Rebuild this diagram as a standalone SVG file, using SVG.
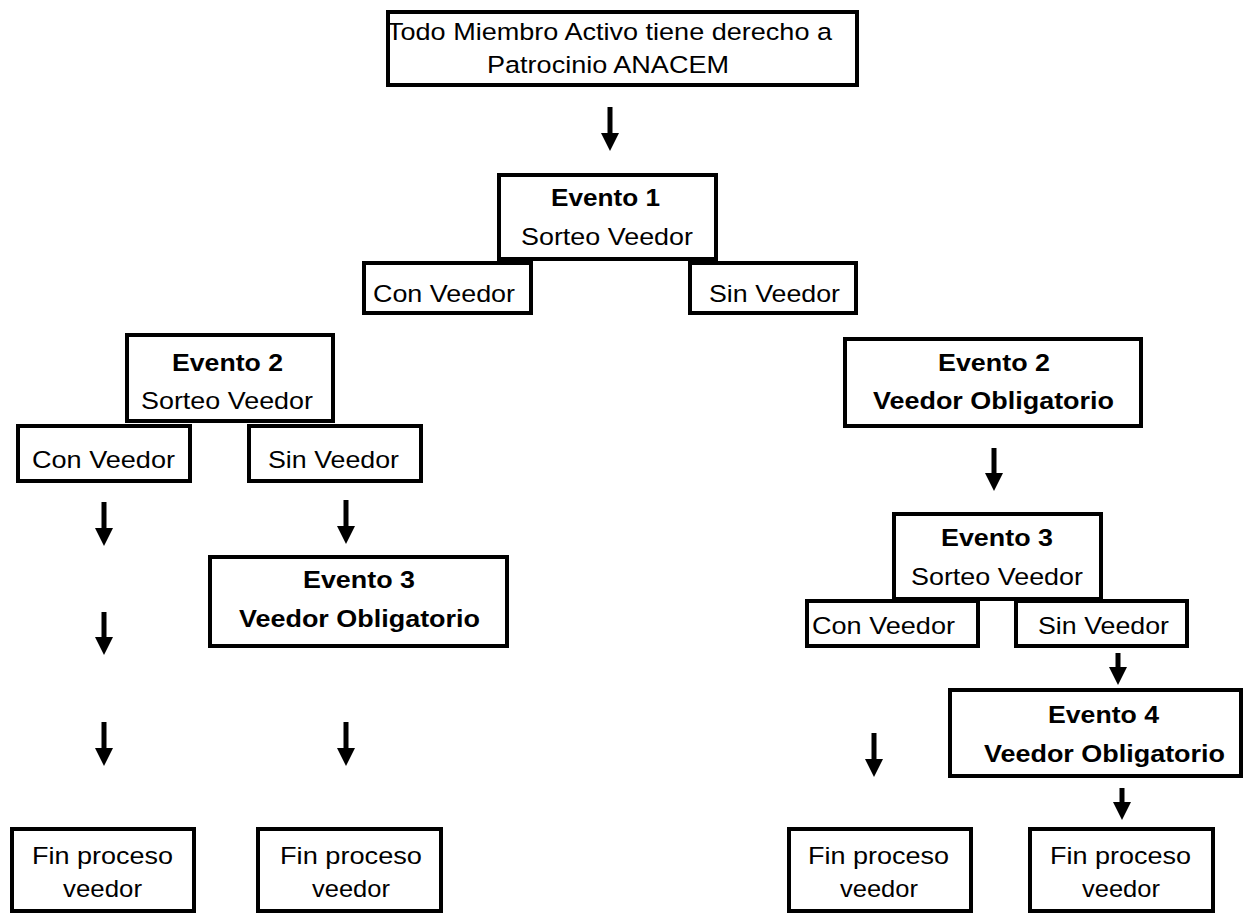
<svg xmlns="http://www.w3.org/2000/svg" width="1244" height="917" viewBox="0 0 1244 917">
<style>
.box{fill:#fff;stroke:#000;stroke-width:4}
.t{font-family:"Liberation Sans",Arial,sans-serif;font-size:24.5px;fill:#000}
.b{font-weight:bold}
.arr{stroke:#000;stroke-width:5;fill:none;marker-end:url(#ah)}
</style>
<defs>
<marker id="ah" markerUnits="userSpaceOnUse" viewBox="0 -9 18 18" refX="0" refY="0" markerWidth="18" markerHeight="18" orient="auto">
<path d="M0,-9 L18,0 L0,9 z" fill="#000"/>
</marker>
</defs>
<rect width="1244" height="917" fill="#fff"/>

<g id="connectors">
<line class="arr" x1="610" y1="107" x2="610" y2="133"/>
<line class="arr" x1="104" y1="502" x2="104" y2="528"/>
<line class="arr" x1="346" y1="500" x2="346" y2="526"/>
<line class="arr" x1="104" y1="612" x2="104" y2="637"/>
<line class="arr" x1="104" y1="722" x2="104" y2="748"/>
<line class="arr" x1="346" y1="722" x2="346" y2="748"/>
<line class="arr" x1="994" y1="448" x2="994" y2="473"/>
<line class="arr" x1="1118" y1="653" x2="1118" y2="667"/>
<line class="arr" x1="874" y1="733" x2="874" y2="759"/>
<line class="arr" x1="1122" y1="788" x2="1122" y2="802"/>
</g>

<g id="n-top">
<rect class="box" x="388" y="12" width="469" height="73"/>
<text class="t" x="387" y="40" textLength="445" lengthAdjust="spacingAndGlyphs">Todo Miembro Activo tiene derecho a</text>
<text class="t" x="487" y="73" textLength="242" lengthAdjust="spacingAndGlyphs">Patrocinio ANACEM</text>
</g>

<g id="n-ev1">
<rect class="box" x="499" y="175" width="217" height="84"/>
<text class="t b" x="551" y="206" textLength="109" lengthAdjust="spacingAndGlyphs">Evento 1</text>
<text class="t" x="521" y="245" textLength="172" lengthAdjust="spacingAndGlyphs">Sorteo Veedor</text>
</g>
<g id="n-ev1-con">
<rect class="box" x="364" y="263" width="167" height="50"/>
<text class="t" x="373" y="302" textLength="142" lengthAdjust="spacingAndGlyphs">Con Veedor</text>
</g>
<g id="n-ev1-sin">
<rect class="box" x="690" y="263" width="166" height="50"/>
<text class="t" x="709" y="302" textLength="131" lengthAdjust="spacingAndGlyphs">Sin Veedor</text>
</g>

<g id="n-ev2-left">
<rect class="box" x="127" y="335" width="206" height="86"/>
<text class="t b" x="172" y="371" textLength="111" lengthAdjust="spacingAndGlyphs">Evento 2</text>
<text class="t" x="141" y="409" textLength="172" lengthAdjust="spacingAndGlyphs">Sorteo Veedor</text>
</g>
<g id="n-ev2-con">
<rect class="box" x="18" y="426" width="172" height="55"/>
<text class="t" x="32" y="468" textLength="143" lengthAdjust="spacingAndGlyphs">Con Veedor</text>
</g>
<g id="n-ev2-sin">
<rect class="box" x="249" y="426" width="172" height="55"/>
<text class="t" x="268" y="468" textLength="131" lengthAdjust="spacingAndGlyphs">Sin Veedor</text>
</g>

<g id="n-ev3-left">
<rect class="box" x="210" y="557" width="297" height="89"/>
<text class="t b" x="303" y="588" textLength="112" lengthAdjust="spacingAndGlyphs">Evento 3</text>
<text class="t b" x="239" y="627" textLength="241" lengthAdjust="spacingAndGlyphs">Veedor Obligatorio</text>
</g>

<g id="n-fin1">
<rect class="box" x="12" y="829" width="182" height="82"/>
<text class="t" x="32" y="864" textLength="141" lengthAdjust="spacingAndGlyphs">Fin proceso</text>
<text class="t" x="63" y="897" textLength="79" lengthAdjust="spacingAndGlyphs">veedor</text>
</g>
<g id="n-fin2">
<rect class="box" x="258" y="829" width="183" height="82"/>
<text class="t" x="280" y="864" textLength="142" lengthAdjust="spacingAndGlyphs">Fin proceso</text>
<text class="t" x="312" y="897" textLength="78" lengthAdjust="spacingAndGlyphs">veedor</text>
</g>

<g id="n-ev2-right">
<rect class="box" x="845" y="339" width="296" height="87"/>
<text class="t b" x="938" y="371" textLength="112" lengthAdjust="spacingAndGlyphs">Evento 2</text>
<text class="t b" x="873" y="409" textLength="241" lengthAdjust="spacingAndGlyphs">Veedor Obligatorio</text>
</g>

<g id="n-ev3-right">
<rect class="box" x="894" y="514" width="207" height="85"/>
<text class="t b" x="941" y="546" textLength="112" lengthAdjust="spacingAndGlyphs">Evento 3</text>
<text class="t" x="911" y="585" textLength="172" lengthAdjust="spacingAndGlyphs">Sorteo Veedor</text>
</g>
<g id="n-ev3-con">
<rect class="box" x="807" y="601" width="171" height="45"/>
<text class="t" x="812" y="634" textLength="143" lengthAdjust="spacingAndGlyphs">Con Veedor</text>
</g>
<g id="n-ev3-sin">
<rect class="box" x="1016" y="601" width="171" height="45"/>
<text class="t" x="1038" y="634" textLength="131" lengthAdjust="spacingAndGlyphs">Sin Veedor</text>
</g>

<g id="n-ev4">
<rect class="box" x="950" y="690" width="291" height="86"/>
<text class="t b" x="1048" y="723" textLength="111" lengthAdjust="spacingAndGlyphs">Evento 4</text>
<text class="t b" x="984" y="762" textLength="241" lengthAdjust="spacingAndGlyphs">Veedor Obligatorio</text>
</g>

<g id="n-fin3">
<rect class="box" x="789" y="829" width="182" height="82"/>
<text class="t" x="808" y="864" textLength="141" lengthAdjust="spacingAndGlyphs">Fin proceso</text>
<text class="t" x="840" y="897" textLength="78" lengthAdjust="spacingAndGlyphs">veedor</text>
</g>
<g id="n-fin4">
<rect class="box" x="1030" y="829" width="183" height="82"/>
<text class="t" x="1050" y="864" textLength="141" lengthAdjust="spacingAndGlyphs">Fin proceso</text>
<text class="t" x="1082" y="897" textLength="78" lengthAdjust="spacingAndGlyphs">veedor</text>
</g>
</svg>
